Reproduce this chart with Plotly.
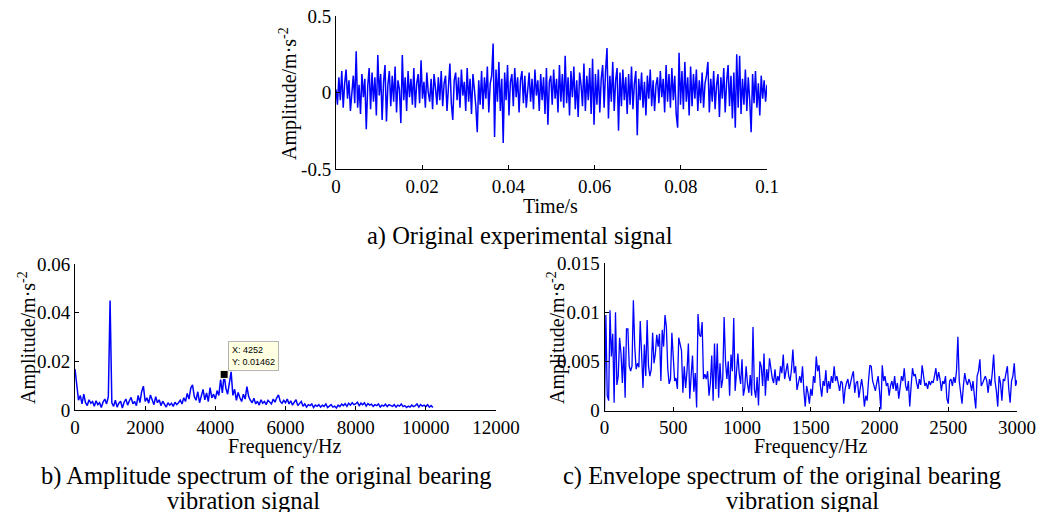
import numpy as np
import plotly.graph_objects as go

# ---------------- data ----------------
# a) original experimental signal (m/s^2), 0 .. 0.1 s
sig_a = [
    0.02, -0.08, 0.10, -0.05, 0.14, -0.10, 0.06, 0.15, -0.04, 0.08, -0.12, 0.03, 0.11, -0.07, 0.27, -0.10, 0.05, -0.14, 0.12, -0.03,
    0.09, -0.24, 0.04, 0.16, -0.11, 0.13, -0.06, 0.10, -0.15, 0.245, -0.02, 0.12, -0.18, 0.07, 0.18, -0.19, 0.05, 0.14, -0.09, 0.11,
    -0.06, 0.17, -0.13, 0.08, 0.02, -0.20, 0.245, -0.05, 0.10, -0.12, 0.14, -0.03, 0.09, -0.08, 0.16, -0.10, 0.06, 0.12, -0.07, 0.21,
    -0.04, 0.07, -0.10, 0.13, 0.00, -0.06, 0.09, -0.11, 0.12, 0.03, -0.08, 0.10, -0.05, 0.14, -0.09, 0.06, 0.11, -0.12, 0.04, 0.19,
    -0.07, -0.18, 0.08, 0.13, -0.05, 0.10, -0.10, 0.15, -0.02, 0.07, -0.12, 0.16, -0.06, 0.09, -0.14, 0.12, 0.02, -0.09, -0.26, 0.08,
    -0.08, 0.14, -0.11, 0.10, -0.04, 0.17, -0.13, 0.06, 0.11, 0.32, -0.29, 0.15, -0.06, 0.20, -0.12, 0.09, -0.33, 0.13, -0.05, 0.18,
    -0.15, 0.07, 0.12, -0.09, 0.16, -0.03, 0.10, -0.13, 0.08, 0.14, -0.07, 0.11, -0.10, 0.05, 0.13, -0.06, 0.09, -0.11, 0.15, -0.02,
    0.08, -0.12, 0.12, -0.05, 0.10, -0.14, 0.16, -0.21, 0.07, 0.11, -0.08, 0.15, -0.04, 0.09, -0.13, 0.18, -0.06, 0.12, -0.10, 0.24,
    -0.07, 0.10, -0.15, 0.14, -0.03, 0.17, -0.11, 0.08, -0.16, 0.13, 0.05, -0.09, 0.19, -0.12, 0.11, -0.05, 0.16, -0.14, 0.22, -0.21,
    0.12, -0.08, 0.15, -0.13, 0.09, 0.18, -0.10, 0.14, 0.29, -0.17, 0.11, -0.06, 0.20, -0.12, 0.08, 0.16, -0.25, 0.13, -0.09, 0.15,
    -0.05, 0.10, -0.14, 0.12, -0.08, 0.17, -0.11, 0.06, 0.14, -0.28, 0.09, -0.05, 0.13, -0.10, 0.07, -0.15, 0.11, -0.04, 0.15, -0.09,
    0.08, -0.12, 0.05, 0.10, -0.07, 0.14, -0.03, 0.09, -0.13, 0.18, -0.06, 0.12, -0.10, 0.16, -0.05, 0.11, -0.14, -0.23, 0.26, -0.08,
    0.14, -0.11, 0.20, -0.06, 0.10, -0.15, 0.17, -0.09, 0.12, -0.04, 0.15, -0.12, 0.08, -0.07, 0.13, -0.10, 0.06, 0.11, 0.20, -0.13,
    0.09, -0.06, 0.14, -0.11, 0.05, 0.12, -0.16, 0.10, -0.04, 0.16, -0.13, 0.07, 0.18, -0.09, 0.11, -0.17, 0.13, -0.23, 0.25, -0.10,
    0.24, -0.14, 0.09, -0.08, 0.15, -0.12, 0.10, -0.05, -0.26, 0.12, -0.07, 0.14, -0.10, 0.06, -0.15, 0.11, -0.04, 0.08, -0.06, 0.05,
]
time_end = 0.1

# b) amplitude spectrum, 0 .. 10200 Hz (50 Hz bins)
spec_b = [
    0.0168, 0.0090, 0.0040, 0.0060, 0.0025, 0.0065, 0.0030, 0.0018, 0.0042, 0.0028, 0.0035, 0.0015, 0.0038, 0.0022, 0.0030, 0.0010, 0.0033, 0.0045, 0.0025, 0.0055,
    0.0450, 0.0030, 0.0015, 0.0040, 0.0012, 0.0028, 0.0036, 0.0008, 0.0032, 0.0045, 0.0020, 0.0038, 0.0052, 0.0025, 0.0035, 0.0018, 0.0060, 0.0030, 0.0075, 0.0098,
    0.0035, 0.0050, 0.0028, 0.0062, 0.0040, 0.0022, 0.0055, 0.0030, 0.0042, 0.0018, 0.0036, 0.0025, 0.0012, 0.0030, 0.0020, 0.0028, 0.0015, 0.0032, 0.0022, 0.0030,
    0.0040, 0.0025, 0.0050, 0.0035, 0.0068, 0.0045, 0.0090, 0.0103, 0.0055, 0.0040, 0.0075, 0.0030, 0.0060, 0.0085, 0.0042, 0.0070, 0.0035, 0.0092, 0.0050, 0.0065,
    0.0045, 0.0080, 0.0060, 0.0125, 0.0070, 0.0146, 0.0090, 0.0065, 0.0110, 0.0157, 0.0060, 0.0085, 0.0040, 0.0072, 0.0050, 0.0035, 0.0065, 0.0045, 0.0096, 0.0055,
    0.0040, 0.0030, 0.0048, 0.0025, 0.0036, 0.0020, 0.0042, 0.0028, 0.0035, 0.0022, 0.0040, 0.0030, 0.0025, 0.0045, 0.0032, 0.0050, 0.0062, 0.0035, 0.0028, 0.0040,
    0.0030, 0.0045, 0.0025, 0.0038, 0.0020, 0.0032, 0.0042, 0.0018, 0.0028, 0.0035, 0.0015, 0.0025, 0.0012, 0.0022, 0.0018, 0.0025, 0.0010, 0.0020, 0.0015, 0.0022,
    0.0012, 0.0020, 0.0015, 0.0025, 0.0010, 0.0018, 0.0022, 0.0012, 0.0016, 0.0008, 0.0020, 0.0014, 0.0024, 0.0018, 0.0026, 0.0015, 0.0028, 0.0020, 0.0030, 0.0022,
    0.0025, 0.0032, 0.0018, 0.0028, 0.0022, 0.0030, 0.0016, 0.0026, 0.0020, 0.0024, 0.0015, 0.0022, 0.0018, 0.0025, 0.0012, 0.0020, 0.0016, 0.0024, 0.0014, 0.0022,
    0.0018, 0.0015, 0.0022, 0.0012, 0.0020, 0.0016, 0.0025, 0.0014, 0.0018, 0.0010, 0.0016, 0.0012, 0.0020, 0.0014, 0.0018, 0.0025, 0.0012, 0.0022, 0.0016, 0.0020,
    0.0014, 0.0022, 0.0012, 0.0018, 0.0010,
]
freq_b_end = 10200
tip_x, tip_y = 4252, 0.01462

# c) envelope spectrum, 0 .. 3000 Hz (10 Hz bins)
spec_c = [
    0.0000, 0.0097, 0.0015, 0.0010, 0.0102, 0.0055, 0.0078, 0.0008, 0.0100, 0.0026,
    0.0035, 0.0074, 0.0058, 0.0028, 0.0065, 0.0013, 0.0083, 0.0083, 0.0045, 0.0040,
    0.0045, 0.0112, 0.0065, 0.0042, 0.0048, 0.0044, 0.0091, 0.0052, 0.0023, 0.0067,
    0.0035, 0.0092, 0.0045, 0.0035, 0.0042, 0.0079, 0.0048, 0.0058, 0.0077, 0.0065,
    0.0078, 0.0030, 0.0082, 0.0065, 0.0097, 0.0085, 0.0043, 0.0027, 0.0032, 0.0079,
    0.0050, 0.0030, 0.0033, 0.0022, 0.0074, 0.0066, 0.0061, 0.0018, 0.0045, 0.0023,
    0.0040, 0.0068, 0.0012, 0.0035, 0.0056, 0.0019, 0.0038, 0.0003, 0.0098, 0.0077,
    0.0075, 0.0090, 0.0032, 0.0037, 0.0032, 0.0040, 0.0015, 0.0028, 0.0056, 0.0010,
    0.0068, 0.0022, 0.0068, 0.0013, 0.0048, 0.0023, 0.0032, 0.0095, 0.0050, 0.0032,
    0.0050, 0.0015, 0.0057, 0.0040, 0.0094, 0.0020, 0.0038, 0.0058, 0.0037, 0.0027,
    0.0052, 0.0015, 0.0023, 0.0045, 0.0027, 0.0018, 0.0036, 0.0015, 0.0085, 0.0022,
    0.0013, 0.0034, 0.0005, 0.0050, 0.0045, 0.0025, 0.0058, 0.0015, 0.0042, 0.0030,
    0.0053, 0.0040, 0.0033, 0.0028, 0.0042, 0.0026, 0.0035, 0.0030, 0.0045, 0.0038,
    0.0057, 0.0032, 0.0040, 0.0048, 0.0035, 0.0030, 0.0042, 0.0062, 0.0038, 0.0045,
    0.0021, 0.0030, 0.0035, 0.0028, 0.0045, 0.0020, 0.0004, 0.0025, 0.0018, 0.0007,
    0.0022, 0.0015, 0.0035, 0.0028, 0.0055, 0.0040, 0.0046, 0.0025, 0.0014, 0.0030,
    0.0025, 0.0041, 0.0018, 0.0030, 0.0022, 0.0035, 0.0028, 0.0045, 0.0030, 0.0035,
    0.0025, 0.0020, 0.0030, 0.0028, 0.0007, 0.0022, 0.0028, 0.0032, 0.0022, 0.0030,
    0.0035, 0.0040, 0.0018, 0.0028, 0.0030, 0.0013, 0.0025, 0.0032, 0.0022, 0.0004,
    0.0015, 0.0010, 0.0030, 0.0046, 0.0045, 0.0030, 0.0025, 0.0020, 0.0028, 0.0035,
    0.0020, 0.0001, 0.0046, 0.0030, 0.0035, 0.0025, 0.0028, 0.0015, 0.0025, 0.0030,
    0.0022, 0.0035, 0.0020, 0.0028, 0.0012, 0.0025, 0.0035, 0.0030, 0.0043, 0.0025,
    0.0020, 0.0030, 0.0004, 0.0025, 0.0043, 0.0035, 0.0037, 0.0028, 0.0022, 0.0032,
    0.0026, 0.0046, 0.0032, 0.0025, 0.0028, 0.0022, 0.0030, 0.0026, 0.0030, 0.0028,
    0.0035, 0.0043, 0.0030, 0.0039, 0.0032, 0.0020, 0.0030, 0.0027, 0.0035, 0.0012,
    0.0007, 0.0030, 0.0032, 0.0025, 0.0034, 0.0028, 0.0040, 0.0075, 0.0030, 0.0020,
    0.0007, 0.0025, 0.0038, 0.0030, 0.0026, 0.0032, 0.0028, 0.0020, 0.0030, 0.0015,
    0.0002, 0.0035, 0.0040, 0.0052, 0.0025, 0.0028, 0.0032, 0.0035, 0.0030, 0.0018,
    0.0032, 0.0025, 0.0038, 0.0057, 0.0030, 0.0020, 0.0004, 0.0035, 0.0028, 0.0010,
    0.0032, 0.0030, 0.0038, 0.0045, 0.0022, 0.0008, 0.0030, 0.0035, 0.0048, 0.0025,
    0.0031,
]
freq_c_end = 3000

ticks_a_x = [0, 0.02, 0.04, 0.06, 0.08, 0.1]
ticks_a_y = [-0.5, 0, 0.5]
ticks_b_x = [0, 2000, 4000, 6000, 8000, 10000, 12000]
ticks_b_y = [0, 0.02, 0.04, 0.06]
ticks_c_x = [0, 500, 1000, 1500, 2000, 2500, 3000]
ticks_c_y = [0, 0.005, 0.01, 0.015]

# ---------------- figure ----------------
W, H = 1046, 512
SERIF = "Liberation Serif, Times New Roman, serif"
BLUE = "#0000FF"


def px_x(p):
    return p / W


def px_y(p):
    return 1 - p / H


def fmt(v):
    return "%g" % v


t_a = np.linspace(0, time_end, len(sig_a))
f_b = np.linspace(0, freq_b_end, len(spec_b))
f_c = np.linspace(0, freq_c_end, len(spec_c))

fig = go.Figure()
fig.add_trace(go.Scatter(x=t_a, y=sig_a, mode="lines", line=dict(color=BLUE, width=1.5),
                         xaxis="x", yaxis="y", hoverinfo="skip"))
fig.add_trace(go.Scatter(x=f_b, y=spec_b, mode="lines", line=dict(color=BLUE, width=1.5),
                         xaxis="x2", yaxis="y2", hoverinfo="skip"))
fig.add_trace(go.Scatter(x=[tip_x], y=[tip_y], mode="markers",
                         marker=dict(symbol="square", size=8, color="black",
                                     line=dict(color="#FFFFE0", width=1)),
                         xaxis="x2", yaxis="y2", hoverinfo="skip"))
fig.add_trace(go.Scatter(x=f_c, y=spec_c, mode="lines", line=dict(color=BLUE, width=1.3),
                         xaxis="x3", yaxis="y3", hoverinfo="skip"))

tickfont = dict(family=SERIF, size=19, color="black")


def axis(domain, rng, tickvals, anchor):
    return dict(domain=domain, range=rng, tickvals=tickvals,
                ticktext=[fmt(v) for v in tickvals], tickfont=tickfont,
                showline=True, linecolor="black", linewidth=1, ticks="inside",
                ticklen=4, tickcolor="black", showgrid=False, zeroline=False,
                mirror=False, anchor=anchor, fixedrange=True, automargin=False)


fig.update_layout(
    width=W, height=H, margin=dict(l=0, r=0, t=0, b=0, autoexpand=False),
    paper_bgcolor="white", plot_bgcolor="white", showlegend=False,
    xaxis=axis([px_x(336), px_x(767)], [0, 0.1], ticks_a_x, "y"),
    yaxis=axis([px_y(169), px_y(16)], [-0.5, 0.5], ticks_a_y, "x"),
    xaxis2=axis([px_x(75), px_x(496)], [0, 12000], ticks_b_x, "y2"),
    yaxis2=axis([px_y(410), px_y(264)], [0, 0.06], ticks_b_y, "x2"),
    xaxis3=axis([px_x(604.5), px_x(1017)], [0, 3000], ticks_c_x, "y3"),
    yaxis3=axis([px_y(410.5), px_y(263)], [0, 0.015], ticks_c_y, "x3"),
)

ann = []


def text(x, y, s, size, angle=0):
    ann.append(dict(xref="paper", yref="paper", x=px_x(x), y=px_y(y), text=s,
                    showarrow=False, xanchor="center", yanchor="middle",
                    textangle=angle, font=dict(family=SERIF, size=size, color="black")))


ylab = "Amplitude/m·s<sup>-2</sup>"
text(550, 206, "Time/s", 20)
text(288, 94, ylab, 20, -90)
text(520, 236, "a) Original experimental signal", 24.5)

text(284, 446, "Frequency/Hz", 20)
text(27, 338, ylab, 20, -90)
text(266, 476, "b) Amplitude spectrum of the original bearing", 24.5)
text(243, 500, "vibration signal", 24.5)

text(810, 446, "Frequency/Hz", 20)
text(556, 338, ylab, 20, -90)
text(782, 476, "c) Envelope spectrum of the original bearing", 24.5)
text(802, 500, "vibration signal", 24.5)

# data tip
ann.append(dict(xref="x2", yref="y2", x=tip_x, y=tip_y,
                text="X: %d<br>Y: %s" % (tip_x, tip_y), showarrow=False,
                xanchor="left", yanchor="bottom", xshift=4, yshift=3, align="left",
                bgcolor="#FFFFE1", bordercolor="#B4B4B4", borderwidth=1, borderpad=3,
                font=dict(family="Liberation Sans, Arial, sans-serif", size=9, color="black")))

fig.update_layout(annotations=ann)
fig.write_html("out.html", config={"displayModeBar": False},
               post_script="document.body.style.margin='0';document.body.style.overflow='hidden';")
